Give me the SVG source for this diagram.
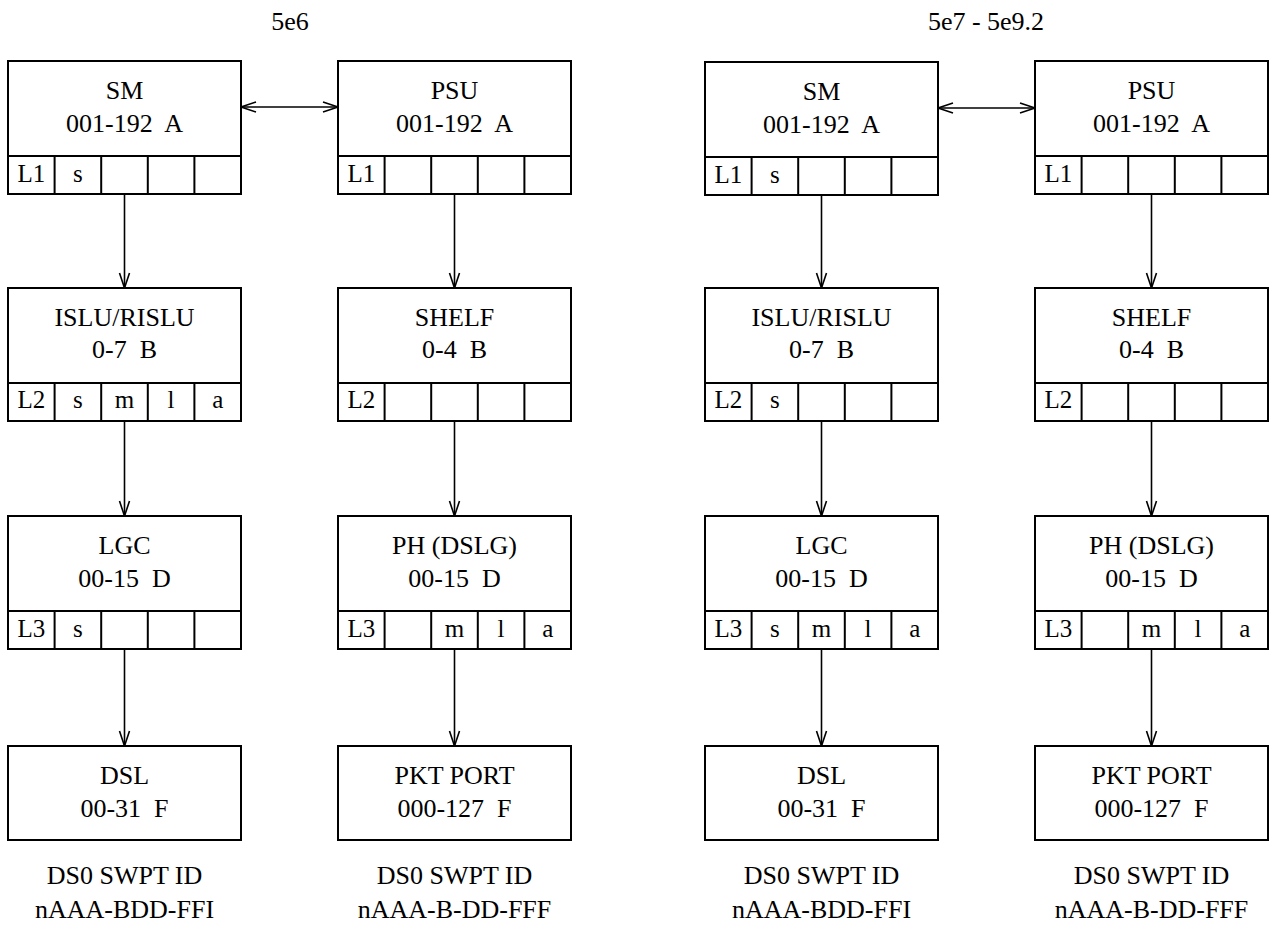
<svg xmlns="http://www.w3.org/2000/svg" width="1278" height="926" viewBox="0 0 1278 926">
<style>
text{font-family:"Liberation Serif","Times New Roman",serif;font-size:26px;fill:#000;text-anchor:middle}
.c{font-size:25px}
.box{fill:#fff;stroke:#000;stroke-width:2}
.ln{stroke:#000;stroke-width:2;fill:none}
.con{stroke:#000;stroke-width:1.6;fill:none}
</style>
<defs>
<marker id="ah" markerUnits="userSpaceOnUse" markerWidth="20" markerHeight="14" viewBox="-16 -7 18 14" refX="0" refY="0" orient="auto-start-reverse">
<path d="M-15,-5 L0,0 L-15,5" fill="none" stroke="#000" stroke-width="1.6"/>
</marker>
</defs>
<rect width="1278" height="926" fill="#fff"/>
<text x="290" y="30">5e6</text>
<text x="986" y="30">5e7 - 5e9.2</text>

<g id="connectors">
<path class="con" d="M241,107 H338" marker-start="url(#ah)" marker-end="url(#ah)"/>
<path class="con" d="M938,108 H1035" marker-start="url(#ah)" marker-end="url(#ah)"/>
<path class="con" d="M124.5,194 V288" marker-end="url(#ah)"/>
<path class="con" d="M124.5,421 V516" marker-end="url(#ah)"/>
<path class="con" d="M124.5,649 V746" marker-end="url(#ah)"/>
<path class="con" d="M454.5,194 V288" marker-end="url(#ah)"/>
<path class="con" d="M454.5,421 V516" marker-end="url(#ah)"/>
<path class="con" d="M454.5,649 V746" marker-end="url(#ah)"/>
<path class="con" d="M821.5,195 V288" marker-end="url(#ah)"/>
<path class="con" d="M821.5,421 V516" marker-end="url(#ah)"/>
<path class="con" d="M821.5,649 V746" marker-end="url(#ah)"/>
<path class="con" d="M1151.5,194 V288" marker-end="url(#ah)"/>
<path class="con" d="M1151.5,421 V516" marker-end="url(#ah)"/>
<path class="con" d="M1151.5,649 V746" marker-end="url(#ah)"/>
</g>

<!-- Column 1 -->
<g id="sm1">
<rect class="box" x="8" y="61" width="233" height="133"/>
<path class="ln" d="M8,156 H241 M54.6,156 V194 M101.2,156 V194 M147.8,156 V194 M194.4,156 V194"/>
<text x="124.5" y="99">SM</text>
<text x="124.5" y="132" xml:space="preserve">001-192  A</text>
<text class="c" x="31.3" y="182">L1</text>
<text class="c" x="77.9" y="182">s</text>
</g>
<g id="islu1">
<rect class="box" x="8" y="288" width="233" height="133"/>
<path class="ln" d="M8,383 H241 M54.6,383 V421 M101.2,383 V421 M147.8,383 V421 M194.4,383 V421"/>
<text x="124.5" y="326">ISLU/RISLU</text>
<text x="124.5" y="358" xml:space="preserve">0-7  B</text>
<text class="c" x="31.3" y="408">L2</text>
<text class="c" x="77.9" y="408">s</text>
<text class="c" x="124.5" y="408">m</text>
<text class="c" x="171.1" y="408">l</text>
<text class="c" x="217.7" y="408">a</text>
</g>
<g id="lgc1">
<rect class="box" x="8" y="516" width="233" height="133"/>
<path class="ln" d="M8,611 H241 M54.6,611 V649 M101.2,611 V649 M147.8,611 V649 M194.4,611 V649"/>
<text x="124.5" y="554">LGC</text>
<text x="124.5" y="587" xml:space="preserve">00-15  D</text>
<text class="c" x="31.3" y="637">L3</text>
<text class="c" x="77.9" y="637">s</text>
</g>
<g id="dsl1">
<rect class="box" x="8" y="746" width="233" height="94"/>
<text x="124.5" y="784">DSL</text>
<text x="124.5" y="817" xml:space="preserve">00-31  F</text>
</g>
<g id="id1">
<text x="124.5" y="884">DS0 SWPT ID</text>
<text x="124.5" y="918">nAAA-BDD-FFI</text>
</g>

<!-- Column 2 -->
<g id="psu1">
<rect class="box" x="338" y="61" width="233" height="133"/>
<path class="ln" d="M338,156 H571 M384.6,156 V194 M431.2,156 V194 M477.8,156 V194 M524.4,156 V194"/>
<text x="454.5" y="99">PSU</text>
<text x="454.5" y="132" xml:space="preserve">001-192  A</text>
<text class="c" x="361.3" y="182">L1</text>
</g>
<g id="shelf1">
<rect class="box" x="338" y="288" width="233" height="133"/>
<path class="ln" d="M338,383 H571 M384.6,383 V421 M431.2,383 V421 M477.8,383 V421 M524.4,383 V421"/>
<text x="454.5" y="326">SHELF</text>
<text x="454.5" y="358" xml:space="preserve">0-4  B</text>
<text class="c" x="361.3" y="408">L2</text>
</g>
<g id="ph1">
<rect class="box" x="338" y="516" width="233" height="133"/>
<path class="ln" d="M338,611 H571 M384.6,611 V649 M431.2,611 V649 M477.8,611 V649 M524.4,611 V649"/>
<text x="454.5" y="554">PH (DSLG)</text>
<text x="454.5" y="587" xml:space="preserve">00-15  D</text>
<text class="c" x="361.3" y="637">L3</text>
<text class="c" x="454.5" y="637">m</text>
<text class="c" x="501.1" y="637">l</text>
<text class="c" x="547.7" y="637">a</text>
</g>
<g id="pkt1">
<rect class="box" x="338" y="746" width="233" height="94"/>
<text x="454.5" y="784">PKT PORT</text>
<text x="454.5" y="817" xml:space="preserve">000-127  F</text>
</g>
<g id="id2">
<text x="454.5" y="884">DS0 SWPT ID</text>
<text x="454.5" y="918">nAAA-B-DD-FFF</text>
</g>

<!-- Column 3 -->
<g id="sm2">
<rect class="box" x="705" y="62" width="233" height="133"/>
<path class="ln" d="M705,157 H938 M751.6,157 V195 M798.2,157 V195 M844.8,157 V195 M891.4,157 V195"/>
<text x="821.5" y="100">SM</text>
<text x="821.5" y="133" xml:space="preserve">001-192  A</text>
<text class="c" x="728.3" y="183">L1</text>
<text class="c" x="774.9" y="183">s</text>
</g>
<g id="islu2">
<rect class="box" x="705" y="288" width="233" height="133"/>
<path class="ln" d="M705,383 H938 M751.6,383 V421 M798.2,383 V421 M844.8,383 V421 M891.4,383 V421"/>
<text x="821.5" y="326">ISLU/RISLU</text>
<text x="821.5" y="358" xml:space="preserve">0-7  B</text>
<text class="c" x="728.3" y="408">L2</text>
<text class="c" x="774.9" y="408">s</text>
</g>
<g id="lgc2">
<rect class="box" x="705" y="516" width="233" height="133"/>
<path class="ln" d="M705,611 H938 M751.6,611 V649 M798.2,611 V649 M844.8,611 V649 M891.4,611 V649"/>
<text x="821.5" y="554">LGC</text>
<text x="821.5" y="587" xml:space="preserve">00-15  D</text>
<text class="c" x="728.3" y="637">L3</text>
<text class="c" x="774.9" y="637">s</text>
<text class="c" x="821.5" y="637">m</text>
<text class="c" x="868.1" y="637">l</text>
<text class="c" x="914.7" y="637">a</text>
</g>
<g id="dsl2">
<rect class="box" x="705" y="746" width="233" height="94"/>
<text x="821.5" y="784">DSL</text>
<text x="821.5" y="817" xml:space="preserve">00-31  F</text>
</g>
<g id="id3">
<text x="821.5" y="884">DS0 SWPT ID</text>
<text x="821.5" y="918">nAAA-BDD-FFI</text>
</g>

<!-- Column 4 -->
<g id="psu2">
<rect class="box" x="1035" y="61" width="233" height="133"/>
<path class="ln" d="M1035,156 H1268 M1081.6,156 V194 M1128.2,156 V194 M1174.8,156 V194 M1221.4,156 V194"/>
<text x="1151.5" y="99">PSU</text>
<text x="1151.5" y="132" xml:space="preserve">001-192  A</text>
<text class="c" x="1058.3" y="182">L1</text>
</g>
<g id="shelf2">
<rect class="box" x="1035" y="288" width="233" height="133"/>
<path class="ln" d="M1035,383 H1268 M1081.6,383 V421 M1128.2,383 V421 M1174.8,383 V421 M1221.4,383 V421"/>
<text x="1151.5" y="326">SHELF</text>
<text x="1151.5" y="358" xml:space="preserve">0-4  B</text>
<text class="c" x="1058.3" y="408">L2</text>
</g>
<g id="ph2">
<rect class="box" x="1035" y="516" width="233" height="133"/>
<path class="ln" d="M1035,611 H1268 M1081.6,611 V649 M1128.2,611 V649 M1174.8,611 V649 M1221.4,611 V649"/>
<text x="1151.5" y="554">PH (DSLG)</text>
<text x="1151.5" y="587" xml:space="preserve">00-15  D</text>
<text class="c" x="1058.3" y="637">L3</text>
<text class="c" x="1151.5" y="637">m</text>
<text class="c" x="1198.1" y="637">l</text>
<text class="c" x="1244.7" y="637">a</text>
</g>
<g id="pkt2">
<rect class="box" x="1035" y="746" width="233" height="94"/>
<text x="1151.5" y="784">PKT PORT</text>
<text x="1151.5" y="817" xml:space="preserve">000-127  F</text>
</g>
<g id="id4">
<text x="1151.5" y="884">DS0 SWPT ID</text>
<text x="1151.5" y="918">nAAA-B-DD-FFF</text>
</g>
</svg>
